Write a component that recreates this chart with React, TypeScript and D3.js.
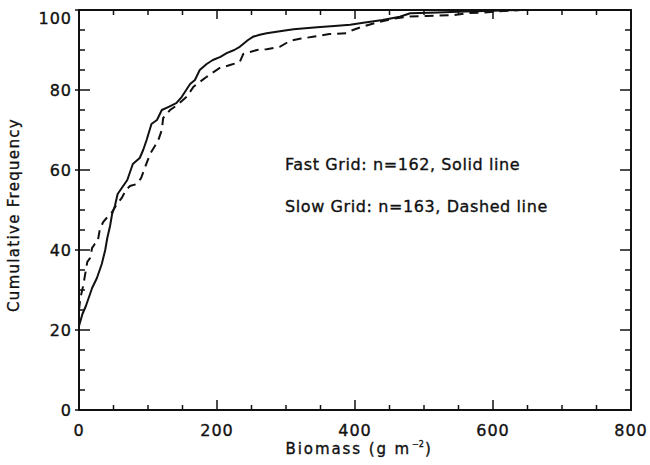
import React from "react";
import * as d3 from "d3";

const fastX = [0, 5, 10, 15, 19, 26, 33, 38, 41, 45, 48, 52, 56, 62, 70, 78, 88, 93, 98, 105, 113, 120, 130, 141, 149, 161, 168, 175, 185, 194, 205, 214, 225, 233, 245, 252, 262, 272, 296, 311, 345, 370, 393, 412, 440, 465, 480, 520, 560, 600, 640];
const fastY = [21, 24, 26, 28.5, 30.5, 33, 36.5, 40, 43, 46, 49, 51, 54, 55.5, 57.5, 61.5, 63, 65, 67.5, 71.5, 72.5, 75, 75.8, 76.7, 78.3, 81.5, 82.5, 85, 86.5, 87.5, 88.3, 89.2, 90, 90.8, 92.5, 93.3, 93.8, 94.2, 94.8, 95.2, 95.7, 96, 96.3, 96.8, 97.5, 98.3, 99.2, 99.4, 99.6, 99.8, 100];

const slowX = [0, 2, 6, 9, 12, 16, 19, 23, 27, 30, 35, 40, 48, 55, 62, 68, 74, 84, 90, 96, 103, 110, 115, 120, 122, 132, 142, 156, 166, 175, 185, 204, 220, 233, 238, 248, 258, 272, 291, 306, 320, 339, 363, 388, 397, 410, 430, 455, 480, 504, 542, 562, 581, 604, 640];
const slowY = [25, 28, 31, 34, 37, 38, 40.5, 41.5, 42, 45, 47, 48, 49.5, 51.5, 53, 55, 56, 56.5, 58, 60.8, 64, 66, 67.5, 70, 73, 75, 76.2, 78.3, 80.8, 82, 83.3, 85.5, 86.3, 87, 89, 89.5, 90, 90.2, 90.8, 92.3, 92.8, 93.3, 94, 94.2, 95, 95.8, 96.8, 97.8, 98.4, 98.5, 98.7, 99.2, 99.3, 99.6, 100];

const xMajor = [0, 200, 400, 600, 800];
const yMajor = [0, 20, 40, 60, 80, 100];
const legendLines = ["Fast Grid: n=162, Solid line", "Slow Grid: n=163, Dashed line"];

const W = 650, H = 465;
const M = { left: 79, right: 19, top: 10, bottom: 55 };
const FONT = "'DejaVu Sans', sans-serif";

export default function App() {
  const x = d3.scaleLinear().domain([0, 800]).range([M.left, W - M.right]);
  const y = d3.scaleLinear().domain([0, 100]).range([H - M.bottom, M.top]);
  const line = d3.line<[number, number]>().x(d => x(d[0])).y(d => y(d[1]));
  const fast = fastX.map((v, i) => [v, fastY[i]] as [number, number]);
  const slow = slowX.map((v, i) => [v, slowY[i]] as [number, number]);
  const xMinor = d3.range(0, 801, 50).filter(v => !xMajor.includes(v));
  const yMinor = d3.range(0, 101, 5).filter(v => !yMajor.includes(v));
  const x0 = x(0), x1 = x(800), y0 = y(0), y1 = y(100);
  const stroke = "#111";
  const textStyle = { stroke: stroke, strokeWidth: 0.35 };
  const titleEnd = (x0 + x1) / 2 + 56;
  return (
    <svg width={W} height={H} style={{ position: "absolute", left: 0, top: 0, background: "#fff" }}>
      <rect x={0} y={0} width={W} height={H} fill="#fff" />
      <g stroke={stroke} strokeWidth={1.5}>
        {xMajor.map(v => (
          <g key={"xm" + v}>
            <line x1={x(v)} x2={x(v)} y1={y0} y2={y0 - 10} />
            <line x1={x(v)} x2={x(v)} y1={y1} y2={y1 + 9} />
          </g>
        ))}
        {xMinor.map(v => (
          <g key={"xn" + v}>
            <line x1={x(v)} x2={x(v)} y1={y0} y2={y0 - 5} />
            <line x1={x(v)} x2={x(v)} y1={y1} y2={y1 + 5} />
          </g>
        ))}
        {yMajor.map(v => (
          <g key={"ym" + v}>
            <line x1={x0 - 4} x2={x0 + 11} y1={y(v)} y2={y(v)} />
            <line x1={x1} x2={x1 - 11} y1={y(v)} y2={y(v)} />
          </g>
        ))}
        {yMinor.map(v => (
          <g key={"yn" + v}>
            <line x1={x0} x2={x0 + 6} y1={y(v)} y2={y(v)} />
            <line x1={x1} x2={x1 - 6} y1={y(v)} y2={y(v)} />
          </g>
        ))}
      </g>
      <rect x={x0} y={y1} width={x1 - x0} height={y0 - y1} fill="none" stroke={stroke} strokeWidth={2} />
      <path d={line(fast) || ""} fill="none" stroke={stroke} strokeWidth={2} strokeLinejoin="round" />
      <path d={line(slow) || ""} fill="none" stroke={stroke} strokeWidth={2} strokeDasharray="9,6" />
      <g fontFamily={FONT} fontSize={16} fill={stroke} letterSpacing={1} style={textStyle}>
        {xMajor.map(v => (
          <text key={"xl" + v} x={x(v)} y={y0 + 26} textAnchor="middle">{v}</text>
        ))}
        {yMajor.map(v => (
          <text key={"yl" + v} x={x0 - 7} y={Math.max(y(v), y1 + 7.5) + 6} textAnchor="end">{v}</text>
        ))}
      </g>
      <text x={titleEnd} y={454} textAnchor="end" fontFamily={FONT} fontSize={15} letterSpacing={1.9} fill={stroke} style={textStyle}>
        Biomass (g m
      </text>
      <text x={titleEnd + 1} y={447} fontFamily={FONT} fontSize={8} fill={stroke} style={textStyle}>−2</text>
      <text x={titleEnd + 14} y={454} fontFamily={FONT} fontSize={15} fill={stroke} style={textStyle}>)</text>
      <text transform={`translate(19,${(y0 + y1) / 2 + 5}) rotate(-90)`} textAnchor="middle" fontFamily={FONT} fontSize={15} letterSpacing={1.3} fill={stroke} style={textStyle}>
        Cumulative Frequency
      </text>
      {legendLines.map((t, i) => (
        <text key={t} x={285} y={170 + i * 42} fontFamily={FONT} fontSize={16} letterSpacing={0.6} fill={stroke} style={textStyle}>{t}</text>
      ))}
    </svg>
  );
}
